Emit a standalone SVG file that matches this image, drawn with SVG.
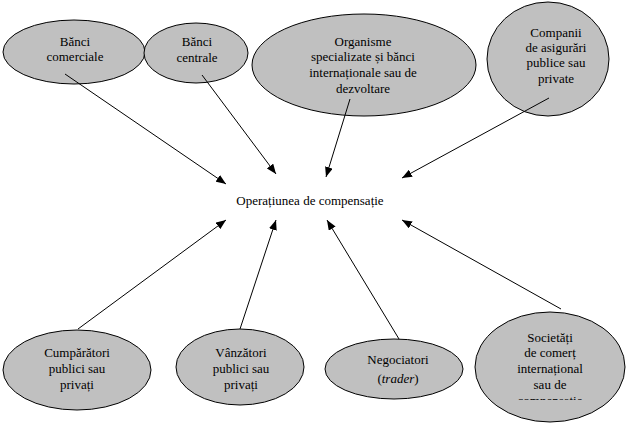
<svg xmlns="http://www.w3.org/2000/svg" width="627" height="424" viewBox="0 0 627 424">
<style>
.n ellipse{fill:#c0c0c0;stroke:#000;stroke-width:1}
.t text{font-family:"Liberation Serif","Times New Roman",serif;font-size:13px;fill:#000;text-anchor:middle}
.c line{stroke:#000;stroke-width:1;marker-end:url(#ah)}
</style>
<defs>
<marker id="ah" markerUnits="userSpaceOnUse" markerWidth="11" markerHeight="8" refX="10" refY="4" orient="auto">
<path d="M0,0 L10,4 L0,8 Z" fill="#000"/>
</marker>
<clipPath id="clipS"><rect x="470" y="300" width="157" height="100"/></clipPath>
</defs>
<rect width="627" height="424" fill="#fff"/>
<g class="t">
<g id="n1" class="n"><ellipse cx="74" cy="52" rx="71" ry="32"/><text x="75" y="46">Bănci</text><text x="75" y="61">comerciale</text></g>
<g id="n2" class="n"><ellipse cx="196" cy="53" rx="52" ry="30"/><text x="197" y="46">Bănci</text><text x="197" y="62">centrale</text></g>
<g id="n3" class="n"><ellipse cx="364" cy="65" rx="112" ry="51"/><text x="363" y="46">Organisme</text><text x="363" y="61">specializate și bănci</text><text x="363" y="77">internaționale sau de</text><text x="363" y="93">dezvoltare</text></g>
<g id="n4" class="n"><ellipse cx="548" cy="59" rx="61" ry="57"/><text x="556" y="37">Companii</text><text x="556" y="52">de asigurări</text><text x="556" y="67">publice sau</text><text x="556" y="83">private</text></g>
<g id="center"><text x="310" y="205">Operațiunea de compensație</text></g>
<g id="n5" class="n"><ellipse cx="77" cy="370" rx="74" ry="40"/><text x="77" y="357">Cumpărători</text><text x="77" y="373">publici sau</text><text x="77" y="389">privați</text></g>
<g id="n6" class="n"><ellipse cx="240" cy="367" rx="64" ry="38"/><text x="241" y="357">Vânzători</text><text x="241" y="373">publici sau</text><text x="241" y="389">privați</text></g>
<g id="n7" class="n"><ellipse cx="394" cy="369" rx="69" ry="30"/><text x="398" y="364">Negociatori</text><text x="398" y="383">(<tspan font-style="italic">trader</tspan>)</text></g>
<g id="n8" class="n"><ellipse cx="550" cy="367" rx="75" ry="55"/><g clip-path="url(#clipS)"><text x="550" y="342">Societăți</text><text x="550" y="357">de comerț</text><text x="550" y="373">internațional</text><text x="550" y="389">sau de</text><text x="550" y="405">compensație</text></g></g>
</g>
<g id="connectors" class="c">
<line x1="65" y1="74" x2="226" y2="184"/>
<line x1="202" y1="75" x2="276" y2="174"/>
<line x1="350" y1="99" x2="326" y2="177"/>
<line x1="549" y1="98" x2="402" y2="178"/>
<line x1="78" y1="329" x2="226" y2="220"/>
<line x1="240" y1="329" x2="276" y2="220"/>
<line x1="399" y1="339" x2="327" y2="220"/>
<line x1="561" y1="309" x2="402" y2="220"/>
</g>
</svg>
